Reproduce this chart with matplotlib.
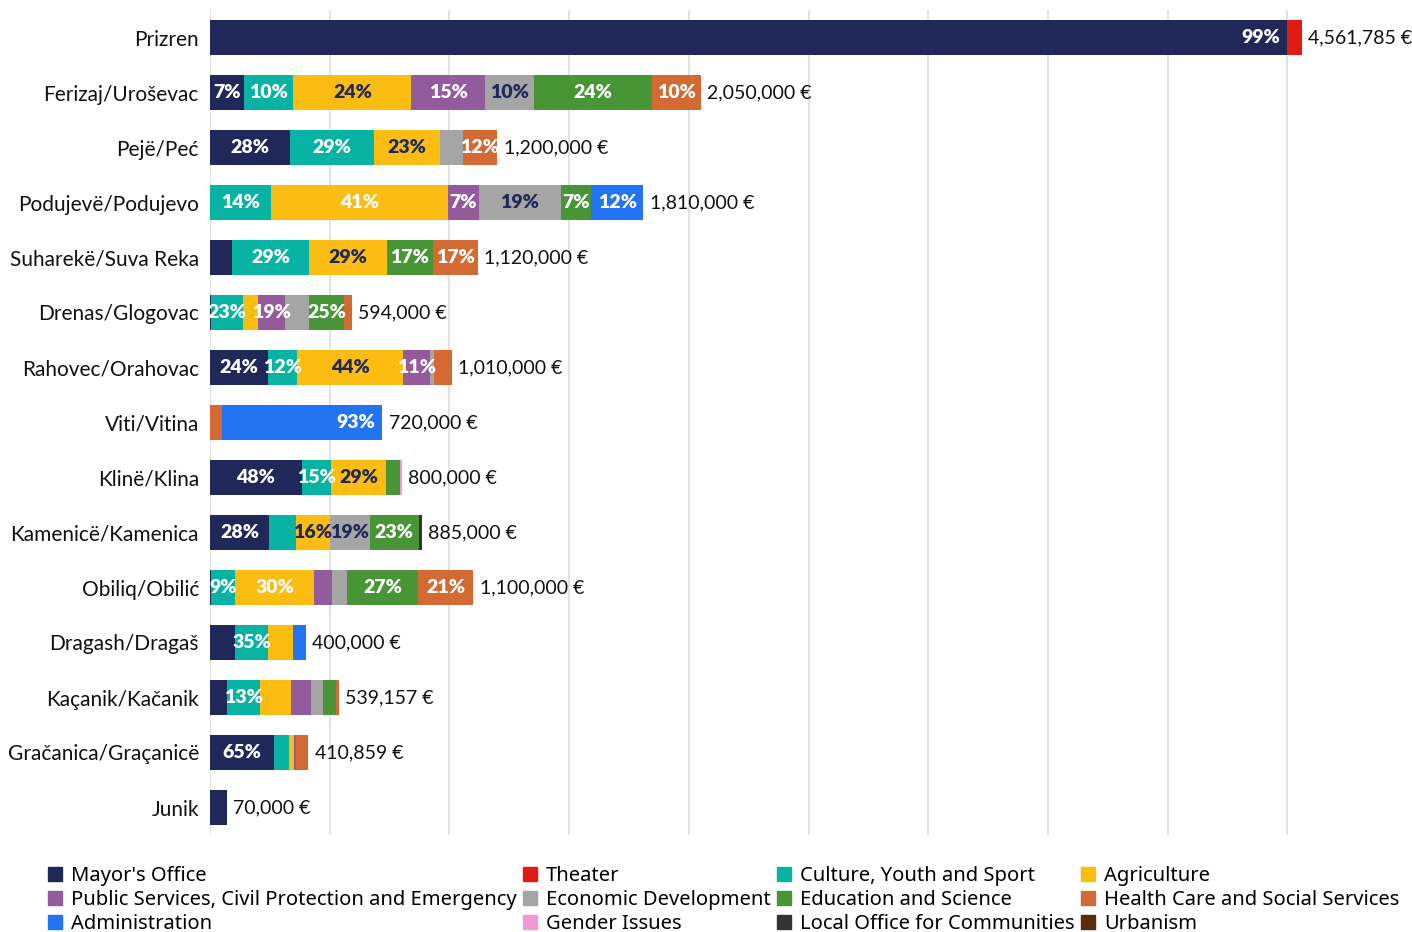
import matplotlib
matplotlib.use('Agg')
import matplotlib.pyplot as plt
from matplotlib.patches import Patch
from matplotlib import transforms
import numpy as np

municipalities = ['Prizren', 'Ferizaj/Uroševac', 'Pejë/Peć', 'Podujevë/Podujevo',
                  'Suharekë/Suva Reka', 'Drenas/Glogovac', 'Rahovec/Orahovac', 'Viti/Vitina',
                  'Klinë/Klina', 'Kamenicë/Kamenica', 'Obiliq/Obilić', 'Dragash/Dragaš',
                  'Kaçanik/Kačanik', 'Gračanica/Graçanicë', 'Junik']
totals = [4561785, 2050000, 1200000, 1810000, 1120000, 594000, 1010000, 720000,
          800000, 885000, 1100000, 400000, 539157, 410859, 70000]

categories = ["Mayor's Office", 'Theater', 'Culture, Youth and Sport', 'Agriculture',
              'Public Services, Civil Protection and Emergency', 'Economic Development',
              'Education and Science', 'Health Care and Social Services', 'Administration',
              'Gender Issues', 'Local Office for Communities', 'Urbanism']

# values in € per category, one entry per municipality (top to bottom)
mayor = [4500000, 143500, 336000, 0, 90000, 4000, 242400, 0, 384000, 247800, 5500, 104000, 70000, 267000, 70000]
theater = [61785, 0, 0, 0, 0, 0, 0, 0, 0, 0, 0, 0, 0, 0, 0]
culture = [0, 205000, 348000, 253400, 325000, 135000, 121200, 0, 120000, 110000, 99000, 140000, 140000, 62000, 0]
agriculture = [0, 492000, 276000, 742100, 325000, 62000, 444400, 0, 232000, 141600, 330000, 102000, 127000, 20000, 0]
public_services = [0, 307500, 0, 126700, 0, 112000, 111100, 0, 0, 0, 77000, 0, 83000, 12000, 0]
economic = [0, 205000, 96000, 343900, 0, 100000, 15000, 0, 0, 168150, 60500, 0, 53000, 0, 0]
education = [0, 492000, 0, 126700, 190000, 148000, 0, 0, 58000, 203550, 297000, 0, 53000, 0, 0]
health = [0, 205000, 144000, 0, 190000, 33000, 75900, 50400, 0, 0, 231000, 0, 13157, 49859, 0]
administration = [0, 0, 0, 217200, 0, 0, 0, 669600, 0, 0, 0, 54000, 0, 0, 0]
gender = [0, 0, 0, 0, 0, 0, 0, 0, 6000, 0, 0, 0, 0, 0, 0]
local_office = [0, 0, 0, 0, 0, 0, 0, 0, 0, 13900, 0, 0, 0, 0, 0]
urbanism = [0, 0, 0, 0, 0, 0, 0, 0, 0, 0, 0, 0, 0, 0, 0]

values = [mayor, theater, culture, agriculture, public_services, economic,
          education, health, administration, gender, local_office, urbanism]

# percentage labels shown inside the bars
pct_labels = {
    'Prizren': {"Mayor's Office": '99%'},
    'Ferizaj/Uroševac': {"Mayor's Office": '7%', 'Culture, Youth and Sport': '10%', 'Agriculture': '24%',
                         'Public Services, Civil Protection and Emergency': '15%', 'Economic Development': '10%',
                         'Education and Science': '24%', 'Health Care and Social Services': '10%'},
    'Pejë/Peć': {"Mayor's Office": '28%', 'Culture, Youth and Sport': '29%', 'Agriculture': '23%',
                 'Health Care and Social Services': '12%'},
    'Podujevë/Podujevo': {'Culture, Youth and Sport': '14%', 'Agriculture': '41%',
                          'Public Services, Civil Protection and Emergency': '7%', 'Economic Development': '19%',
                          'Education and Science': '7%', 'Administration': '12%'},
    'Suharekë/Suva Reka': {'Culture, Youth and Sport': '29%', 'Agriculture': '29%',
                           'Education and Science': '17%', 'Health Care and Social Services': '17%'},
    'Drenas/Glogovac': {'Culture, Youth and Sport': '23%', 'Public Services, Civil Protection and Emergency': '19%',
                        'Education and Science': '25%'},
    'Rahovec/Orahovac': {"Mayor's Office": '24%', 'Culture, Youth and Sport': '12%', 'Agriculture': '44%',
                         'Public Services, Civil Protection and Emergency': '11%'},
    'Viti/Vitina': {'Administration': '93%'},
    'Klinë/Klina': {"Mayor's Office": '48%', 'Culture, Youth and Sport': '15%', 'Agriculture': '29%'},
    'Kamenicë/Kamenica': {"Mayor's Office": '28%', 'Agriculture': '16%', 'Economic Development': '19%',
                          'Education and Science': '23%'},
    'Obiliq/Obilić': {'Culture, Youth and Sport': '9%', 'Agriculture': '30%', 'Education and Science': '27%',
                      'Health Care and Social Services': '21%'},
    'Dragash/Dragaš': {'Culture, Youth and Sport': '35%'},
    'Kaçanik/Kačanik': {'Culture, Youth and Sport': '13%'},
    'Gračanica/Graçanicë': {"Mayor's Office": '65%'},
}
white_on_light = [('Podujevë/Podujevo', 'Agriculture'), ('Obiliq/Obilić', 'Agriculture')]

colors = ['#20285a', '#e01b14', '#08b3a3', '#fbbd12', '#935a9d', '#a5a5a5',
          '#489535', '#d36a33', '#2274f2', '#f09ad2', '#333333', '#5c2b0c']
light = ['Agriculture', 'Economic Development']
navy = '#20285a'

fig = plt.figure(figsize=(14.12, 9.32), dpi=100)
ax = fig.add_axes([210 / 1412, 97 / 932, 1197 / 1412, 825 / 932])

y = np.arange(len(municipalities))
left = np.zeros(len(municipalities))
for cat, vals, col in zip(categories, values, colors):
    vals = np.array(vals, dtype=float)
    ax.barh(y, vals, left=left, height=0.62, color=col, zorder=3)
    for i, m in enumerate(municipalities):
        txt = pct_labels.get(m, {}).get(cat)
        if txt is None:
            continue
        tc = navy if (cat in light and (m, cat) not in white_on_light) else 'white'
        if vals[i] / totals[i] > 0.9:
            tr = transforms.offset_copy(ax.transData, fig=fig, x=-5, y=0, units='points')
            ax.text(left[i] + vals[i], y[i], txt, ha='right', va='center', color=tc,
                    fontsize=14, fontweight='heavy', family='Lato', transform=tr, zorder=4)
        else:
            ax.text(left[i] + vals[i] / 2, y[i], txt, ha='center', va='center', color=tc,
                    fontsize=14, fontweight='heavy', family='Lato', zorder=4)
    left += vals

tr = transforms.offset_copy(ax.transData, fig=fig, x=4.5, y=0, units='points')
for i, t in enumerate(totals):
    ax.text(left[i], y[i], f'{t:,} €', ha='left', va='center', fontsize=14,
            family='Lato', color='#111111', transform=tr)

ax.set_xlim(0, 5000000)
ax.set_ylim(len(municipalities) - 0.5, -0.5)
ax.set_xticks(np.arange(0, 4500001, 500000))
ax.set_xticklabels([])
ax.grid(axis='x', color='#dddddd', linewidth=1.2, zorder=0)
ax.set_yticks(y)
ax.set_yticklabels(municipalities, fontsize=15, family='Lato', color='#111111')
ax.tick_params(length=0, pad=8)
for s in ax.spines.values():
    s.set_visible(False)

handles = [Patch(color=c) for c in colors]
order = [i for c in range(4) for i in range(c, 12, 4)]
fig.legend([handles[i] for i in order], [categories[i] for i in order],
           loc='upper left', bbox_to_anchor=(48 / 1412, 1 - 866 / 932), ncol=4,
           frameon=False, prop={'family': 'Noto Sans', 'size': 14.5},
           handlelength=0.7, handleheight=0.7, handletextpad=0.45,
           columnspacing=0.3, labelspacing=0.2, borderpad=0, borderaxespad=0)

fig.savefig('out.png', dpi=100)
